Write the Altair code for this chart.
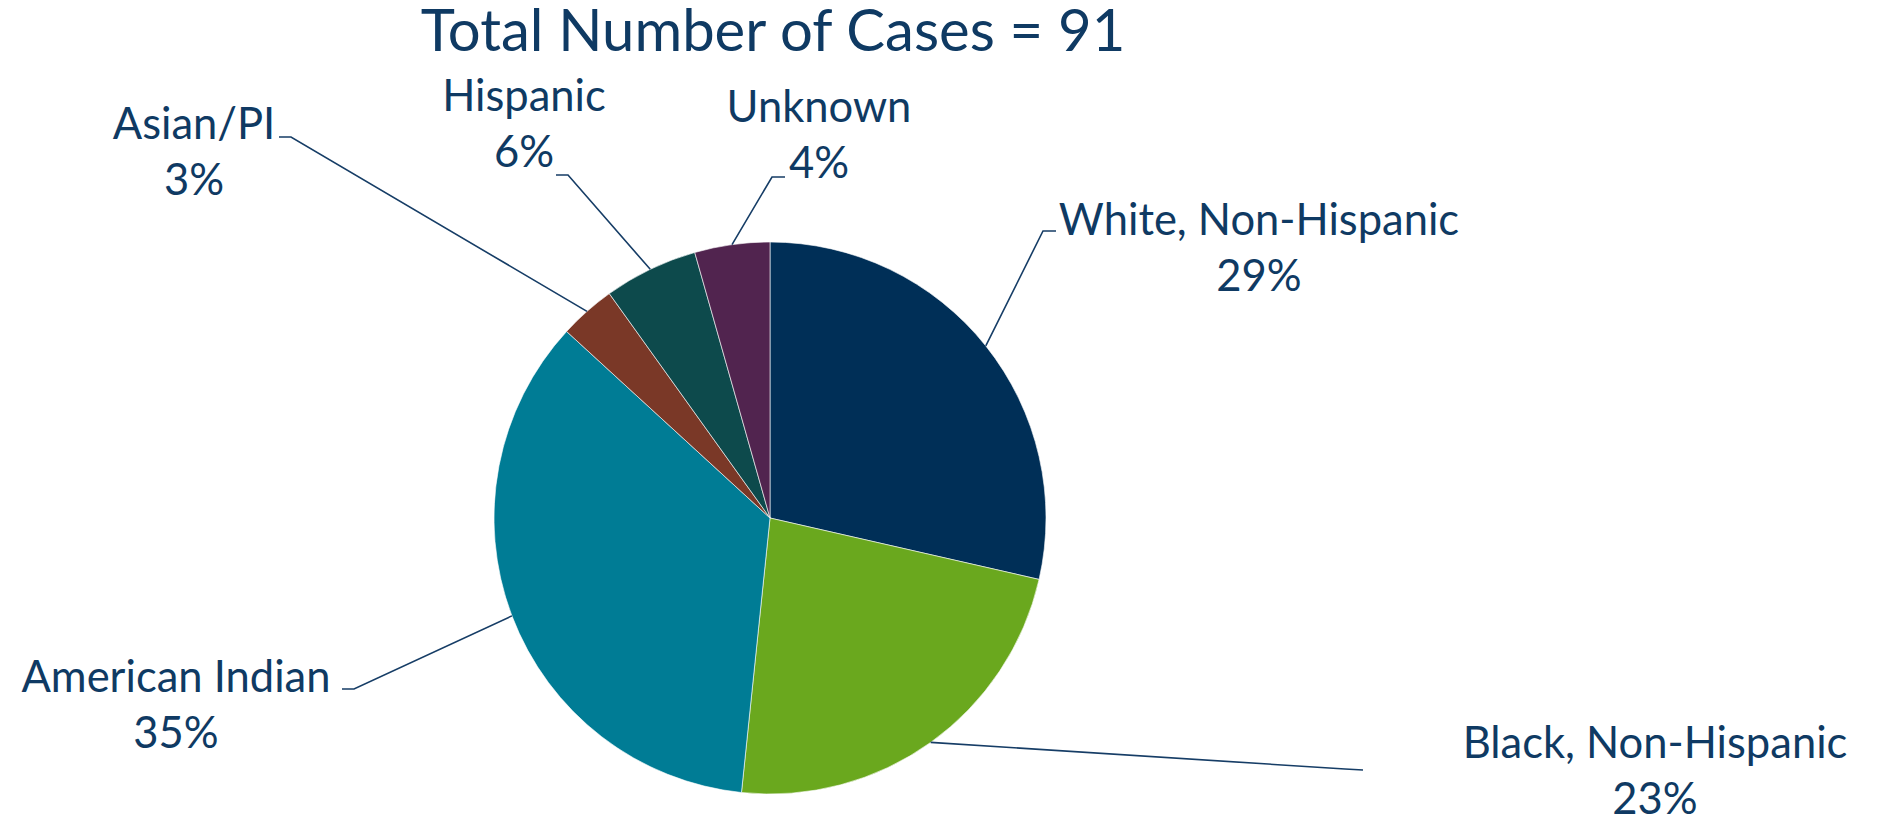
import math
import altair as alt
import pandas as pd

# Share of cases (%) by race/ethnicity, clockwise from 12 o'clock
groups = ["White, Non-Hispanic", "Black, Non-Hispanic", "American Indian",
          "Asian/PI", "Hispanic", "Unknown"]
percent = [28.6, 23.1, 35.2, 3.3, 5.5, 4.4]
total_cases = 91

colors = ["#002f57", "#6aa81e", "#007c95", "#7a3827", "#0d4a4c", "#51244f"]
text_color = "#0f3a63"

W, H = 1880, 819
CX, CY, R = 770, 518, 276

# Label anchors (first-line centre x, first-line baseline y) and leader elbows
label_pos = {
    "White, Non-Hispanic": (1259, 235),
    "Black, Non-Hispanic": (1655, 758),
    "American Indian": (176, 692),
    "Asian/PI": (194, 139),
    "Hispanic": (524, 111),
    "Unknown": (819, 122),
}
elbow_pos = {
    "White, Non-Hispanic": [(1043, 231), (1056, 231)],
    "Black, Non-Hispanic": [(1345, 769), (1363, 770)],
    "American Indian": [(354, 689), (342, 689)],
    "Asian/PI": [(291, 137), (279, 137)],
    "Hispanic": [(568, 175), (556, 175)],
    "Unknown": [(772, 177), (785, 177)],
}

df = pd.DataFrame({"group": groups, "percent": percent, "idx": range(len(groups))})
df["pct_text"] = [f"{int(math.floor(p + 0.5))}%" for p in percent]
df["label"] = df["group"] + "\n" + df["pct_text"]
df["lx"] = [label_pos[g][0] for g in groups]
df["ly"] = [label_pos[g][1] for g in groups]

# Leader lines: start at the slice's mid-angle on the rim
total = sum(percent)
rows = []
cum = 0.0
for g, p in zip(groups, percent):
    mid = (cum + p / 2) / total * 2 * math.pi
    cum += p
    rows.append({"group": g, "step": 0,
                 "x": CX + R * math.sin(mid), "y": CY - R * math.cos(mid)})
    for k, (ex, ey) in enumerate(elbow_pos[g], start=1):
        rows.append({"group": g, "step": k, "x": ex, "y": ey})
leaders = pd.DataFrame(rows)

xs = alt.Scale(domain=[0, W], range=[0, W], nice=False, zero=False)
ys = alt.Scale(domain=[0, H], range=[0, H], nice=False, zero=False)

pie = alt.Chart(df).mark_arc(outerRadius=R, x=CX, y=CY, stroke="#ffffff",
                             strokeWidth=0.6).encode(
    theta=alt.Theta("percent:Q", stack=True),
    order=alt.Order("idx:Q"),
    color=alt.Color("group:N", scale=alt.Scale(domain=groups, range=colors),
                    legend=None),
)

lines = alt.Chart(leaders).mark_line(color="#163d66", strokeWidth=1.6).encode(
    x=alt.X("x:Q", scale=xs, axis=None),
    y=alt.Y("y:Q", scale=ys, axis=None),
    detail="group:N",
    order="step:Q",
)

labels = alt.Chart(df).mark_text(
    font="Lato", fontSize=43.5, color=text_color, align="center",
    baseline="alphabetic", lineBreak="\n", lineHeight=56,
).encode(
    x=alt.X("lx:Q", scale=xs, axis=None),
    y=alt.Y("ly:Q", scale=ys, axis=None),
    text="label:N",
)

title_df = pd.DataFrame({"t": [f"Total Number of Cases = {total_cases}"],
                         "x": [773], "y": [51]})
title = alt.Chart(title_df).mark_text(
    font="Lato", fontSize=58, color=text_color, align="center",
    baseline="alphabetic",
).encode(
    x=alt.X("x:Q", scale=xs, axis=None),
    y=alt.Y("y:Q", scale=ys, axis=None),
    text="t:N",
)

chart = alt.layer(pie, lines, labels, title).properties(
    width=W, height=H, autosize=alt.AutoSizeParams(type="none"), padding=0,
    background="#ffffff",
).configure_view(stroke=None)

chart.save("out.html", embed_options={"renderer": "svg", "actions": False})
